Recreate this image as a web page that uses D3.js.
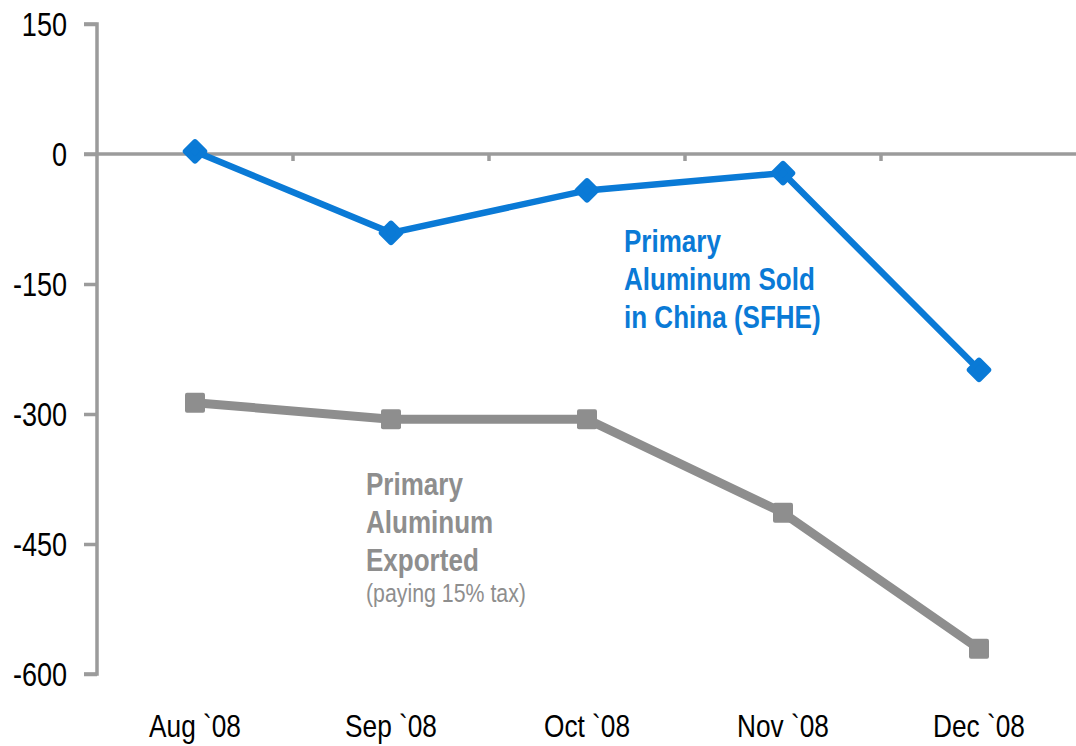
<!DOCTYPE html>
<html>
<head>
<meta charset="utf-8">
<script src="https://cdn.jsdelivr.net/npm/d3@7"></script>
<style>
  body { margin: 0; background: #fff; }
  text { font-family: "Liberation Sans Narrow", "Arial Narrow", "Liberation Sans", sans-serif; }
</style>
</head>
<body>
<div id="chart"></div>
<script>
var months = ["Aug `08", "Sep `08", "Oct `08", "Nov `08", "Dec `08"];
var soldChina = [3, -91, -42, -22, -249];
var exported = [-287, -306, -306, -414, -571];
var yTicks = [150, 0, -150, -300, -450, -600];

var width = 1076,
    height = 746,
    narrow = 0.82; // squeeze Liberation Sans to look like Arial Narrow

var blue = "#0A7AD6",
    grey = "#8E8E8E",
    axisGrey = "#9B9B9B";

var svg = d3.select("#chart").append("svg")
    .attr("width", width)
    .attr("height", height);

var x = d3.scaleBand()
    .domain(months)
    .range([97, 1077]);

var y = d3.scaleLinear()
    .domain([-600, 150])
    .range([674, 24]);

function cx(i) { return x(months[i]) + x.bandwidth() / 2; }

// y axis
var yAxis = svg.append("g")
    .attr("transform", "translate(97,0)")
    .call(d3.axisLeft(y).tickValues(yTicks).tickSize(13).tickFormat(function(d) { return String(d); }));

yAxis.select(".domain").attr("stroke", axisGrey).attr("stroke-width", 3.5)
    .attr("d", "M-13," + y(150) + "H0V" + y(-600) + "H-13");
yAxis.selectAll(".tick line").attr("stroke", axisGrey).attr("stroke-width", 3.5);
yAxis.selectAll(".tick text")
    .attr("fill", "#000")
    .attr("x", -30 / narrow)
    .attr("dy", "0.34em")
    .attr("transform", "scale(" + narrow + ",1)")
    .style("font-size", "33px");

// zero line with category boundary ticks
var boundaries = months.slice(1).map(function(m) { return x(m); });

svg.append("line")
    .attr("x1", 84).attr("x2", width)
    .attr("y1", y(0)).attr("y2", y(0))
    .attr("stroke", axisGrey)
    .attr("stroke-width", 3.5);

svg.selectAll("line.bound")
    .data(boundaries)
  .enter().append("line")
    .attr("class", "bound")
    .attr("x1", function(d) { return d; })
    .attr("x2", function(d) { return d; })
    .attr("y1", y(0))
    .attr("y2", y(0) + 7)
    .attr("stroke", axisGrey)
    .attr("stroke-width", 3.5);

// x labels
svg.selectAll("text.xlab")
    .data(months)
  .enter().append("text")
    .attr("class", "xlab")
    .attr("transform", function(d, i) { return "translate(" + cx(i) + ",737) scale(" + narrow + ",1)"; })
    .attr("text-anchor", "middle")
    .style("font-size", "32px")
    .text(function(d) { return d; });

var line = d3.line()
    .x(function(d, i) { return cx(i); })
    .y(function(d) { return y(d); });

// exported series
svg.append("path")
    .datum(exported)
    .attr("d", line)
    .attr("fill", "none")
    .attr("stroke", grey)
    .attr("stroke-width", 9);

svg.selectAll("rect.sq")
    .data(exported)
  .enter().append("rect")
    .attr("class", "sq")
    .attr("x", function(d, i) { return cx(i) - 10; })
    .attr("y", function(d) { return y(d) - 10; })
    .attr("width", 20)
    .attr("height", 20)
    .attr("rx", 2)
    .attr("fill", grey);

// sold in China series
svg.append("path")
    .datum(soldChina)
    .attr("d", line)
    .attr("fill", "none")
    .attr("stroke", blue)
    .attr("stroke-width", 6.5);

var diamond = d3.symbol().type(d3.symbolSquare).size(170);

svg.selectAll("path.dia")
    .data(soldChina)
  .enter().append("path")
    .attr("class", "dia")
    .attr("d", diamond)
    .attr("transform", function(d, i) { return "translate(" + cx(i) + "," + y(d) + ") rotate(45)"; })
    .attr("fill", blue)
    .attr("stroke", blue)
    .attr("stroke-width", 6)
    .attr("stroke-linejoin", "round");

// series labels
var blueLabel = ["Primary", "Aluminum Sold", "in China (SFHE)"];
svg.selectAll("text.blab")
    .data(blueLabel)
  .enter().append("text")
    .attr("class", "blab")
    .attr("transform", function(d, i) { return "translate(624," + (252 + i * 38) + ") scale(0.84,1)"; })
    .attr("fill", blue)
    .style("font-size", "31px")
    .style("font-weight", "bold")
    .text(function(d) { return d; });

var greyLabel = ["Primary", "Aluminum", "Exported"];
svg.selectAll("text.glab")
    .data(greyLabel)
  .enter().append("text")
    .attr("class", "glab")
    .attr("transform", function(d, i) { return "translate(366," + (495 + i * 38) + ") scale(0.84,1)"; })
    .attr("fill", grey)
    .style("font-size", "31px")
    .style("font-weight", "bold")
    .text(function(d) { return d; });

svg.append("text")
    .attr("transform", "translate(366,602) scale(" + narrow + ",1)")
    .attr("fill", grey)
    .style("font-size", "26px")
    .text("(paying 15% tax)");
</script>
</body>
</html>
